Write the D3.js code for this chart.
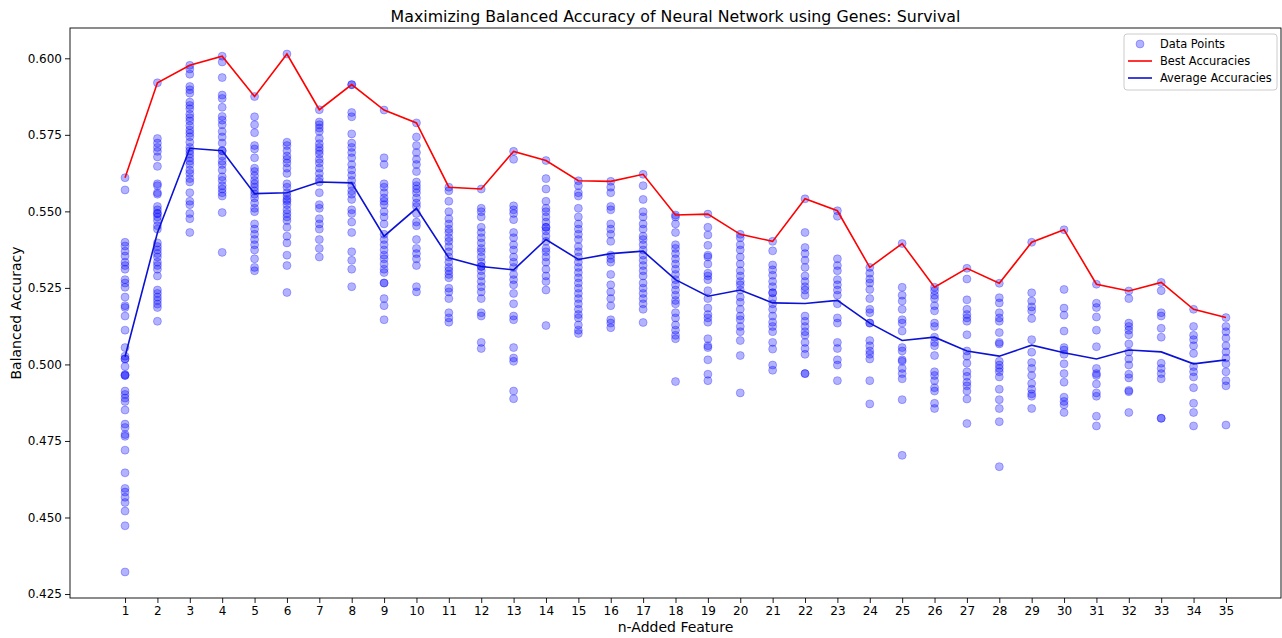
<!DOCTYPE html>
<html>
<head>
<meta charset="utf-8">
<script src="https://cdn.jsdelivr.net/npm/d3@7"></script>
<style>
  html, body { margin: 0; padding: 0; background: #fff; }
  svg { display: block; font-family: "DejaVu Sans", sans-serif; }
</style>
</head>
<body>
<svg id="chart" width="1282" height="638"></svg>
<script>
"use strict";

/* x categories: number of added features */
const features = [1,2,3,4,5,6,7,8,9,10,11,12,13,14,15,16,17,18,19,20,21,22,23,24,25,26,27,28,29,30,31,32,33,34,35];

/* best and average balanced accuracy per feature count */
const bestAcc = [0.5610,0.5920,0.5977,0.6007,0.5875,0.6014,0.5832,0.5914,0.5831,0.5789,
                 0.5579,0.5573,0.5696,0.5666,0.5600,0.5598,0.5621,0.5488,0.5491,0.5425,
                 0.5402,0.5541,0.5502,0.5317,0.5395,0.5252,0.5314,0.5265,0.5399,0.5440,
                 0.5262,0.5240,0.5268,0.5180,0.5153];
const avgAcc = [0.5025,0.5430,0.5706,0.5698,0.5558,0.5561,0.5596,0.5593,0.5419,0.5510,
                0.5348,0.5320,0.5309,0.5408,0.5343,0.5362,0.5370,0.5277,0.5223,0.5243,
                0.5201,0.5199,0.5209,0.5135,0.5078,0.5089,0.5044,0.5027,0.5063,0.5038,
                0.5018,0.5047,0.5041,0.5002,0.5015];

/* individual runs, one list per feature count */
const runs = [
  [0.5610,0.5570,0.5399,0.5387,0.5370,0.5354,0.5334,0.5323,0.5311,0.5277,0.5266,0.5252,0.5220,0.5192,0.5186,0.5158,0.5112,0.5055,0.5027,0.5018,0.5018,0.4993,0.4967,0.4964,0.4964,0.4913,0.4902,0.4890,0.4879,0.4851,0.4805,0.4794,0.4771,0.4765,0.4720,0.4646,0.4595,0.4583,0.4566,0.4549,0.4521,0.4473,0.4322],
  [0.5920,0.5738,0.5723,0.5709,0.5696,0.5678,0.5647,0.5590,0.5584,0.5561,0.5556,0.5516,0.5505,0.5493,0.5493,0.5482,0.5470,0.5453,0.5442,0.5397,0.5385,0.5374,0.5362,0.5351,0.5334,0.5323,0.5311,0.5289,0.5243,0.5232,0.5220,0.5209,0.5197,0.5186,0.5141],
  [0.5977,0.5965,0.5948,0.5908,0.5897,0.5886,0.5857,0.5846,0.5835,0.5817,0.5806,0.5795,0.5780,0.5766,0.5755,0.5744,0.5726,0.5709,0.5698,0.5687,0.5675,0.5664,0.5653,0.5635,0.5624,0.5607,0.5596,0.5561,0.5533,0.5522,0.5493,0.5476,0.5431],
  [0.6007,0.5988,0.5937,0.5880,0.5869,0.5840,0.5810,0.5798,0.5783,0.5761,0.5743,0.5723,0.5698,0.5698,0.5681,0.5664,0.5653,0.5635,0.5613,0.5601,0.5584,0.5573,0.5561,0.5550,0.5496,0.5366],
  [0.5875,0.5809,0.5783,0.5757,0.5715,0.5704,0.5675,0.5641,0.5630,0.5616,0.5601,0.5590,0.5579,0.5567,0.5556,0.5544,0.5527,0.5510,0.5499,0.5459,0.5442,0.5425,0.5408,0.5391,0.5374,0.5345,0.5317,0.5306],
  [0.6014,0.5726,0.5715,0.5698,0.5681,0.5670,0.5658,0.5641,0.5624,0.5590,0.5579,0.5561,0.5550,0.5539,0.5533,0.5522,0.5505,0.5493,0.5482,0.5470,0.5448,0.5419,0.5397,0.5357,0.5323,0.5235],
  [0.5832,0.5792,0.5783,0.5772,0.5761,0.5738,0.5721,0.5709,0.5698,0.5687,0.5670,0.5658,0.5641,0.5624,0.5607,0.5596,0.5561,0.5522,0.5510,0.5476,0.5459,0.5442,0.5408,0.5379,0.5351],
  [0.5914,0.5914,0.5823,0.5809,0.5753,0.5723,0.5709,0.5692,0.5675,0.5653,0.5635,0.5618,0.5601,0.5584,0.5567,0.5556,0.5539,0.5505,0.5493,0.5465,0.5431,0.5368,0.5340,0.5311,0.5254],
  [0.5831,0.5675,0.5653,0.5590,0.5579,0.5561,0.5544,0.5533,0.5522,0.5499,0.5482,0.5459,0.5425,0.5408,0.5391,0.5374,0.5357,0.5345,0.5328,0.5311,0.5300,0.5266,0.5266,0.5215,0.5192,0.5146],
  [0.5789,0.5743,0.5715,0.5692,0.5670,0.5653,0.5630,0.5596,0.5584,0.5573,0.5561,0.5544,0.5527,0.5516,0.5493,0.5465,0.5453,0.5408,0.5379,0.5362,0.5345,0.5323,0.5254,0.5237],
  [0.5579,0.5567,0.5533,0.5499,0.5476,0.5459,0.5442,0.5431,0.5414,0.5402,0.5385,0.5368,0.5351,0.5334,0.5317,0.5306,0.5294,0.5283,0.5249,0.5237,0.5215,0.5169,0.5152,0.5138],
  [0.5573,0.5510,0.5499,0.5482,0.5448,0.5431,0.5414,0.5397,0.5379,0.5368,0.5351,0.5334,0.5320,0.5320,0.5306,0.5289,0.5271,0.5254,0.5237,0.5215,0.5169,0.5158,0.5072,0.5052],
  [0.5696,0.5670,0.5518,0.5505,0.5493,0.5473,0.5431,0.5414,0.5391,0.5374,0.5351,0.5334,0.5317,0.5294,0.5277,0.5260,0.5232,0.5198,0.5158,0.5146,0.5055,0.5021,0.5010,0.4913,0.4888],
  [0.5666,0.5607,0.5573,0.5533,0.5510,0.5499,0.5482,0.5465,0.5448,0.5448,0.5436,0.5419,0.5402,0.5379,0.5368,0.5351,0.5334,0.5311,0.5289,0.5271,0.5243,0.5127],
  [0.5600,0.5584,0.5561,0.5550,0.5510,0.5482,0.5459,0.5442,0.5425,0.5408,0.5385,0.5368,0.5351,0.5334,0.5317,0.5300,0.5283,0.5266,0.5249,0.5232,0.5215,0.5198,0.5180,0.5163,0.5152,0.5129,0.5112,0.5101],
  [0.5598,0.5579,0.5561,0.5516,0.5505,0.5459,0.5442,0.5425,0.5402,0.5357,0.5345,0.5334,0.5294,0.5260,0.5237,0.5215,0.5192,0.5146,0.5135,0.5120],
  [0.5621,0.5584,0.5539,0.5499,0.5482,0.5459,0.5442,0.5419,0.5408,0.5391,0.5374,0.5357,0.5340,0.5323,0.5306,0.5289,0.5266,0.5249,0.5232,0.5215,0.5198,0.5180,0.5137],
  [0.5488,0.5482,0.5459,0.5431,0.5391,0.5379,0.5362,0.5345,0.5328,0.5311,0.5294,0.5277,0.5260,0.5243,0.5226,0.5209,0.5198,0.5169,0.5152,0.5129,0.5112,0.5095,0.5084,0.4944],
  [0.5491,0.5448,0.5423,0.5389,0.5357,0.5351,0.5328,0.5298,0.5289,0.5277,0.5241,0.5215,0.5184,0.5163,0.5152,0.5138,0.5084,0.5061,0.5055,0.5015,0.4968,0.4947],
  [0.5425,0.5414,0.5391,0.5374,0.5351,0.5328,0.5306,0.5289,0.5271,0.5260,0.5243,0.5220,0.5203,0.5180,0.5158,0.5146,0.5124,0.5107,0.5078,0.5029,0.4907],
  [0.5402,0.5371,0.5325,0.5309,0.5291,0.5271,0.5254,0.5234,0.5234,0.5215,0.5198,0.5180,0.5158,0.5138,0.5124,0.5107,0.5072,0.5050,0.4998,0.4981],
  [0.5541,0.5431,0.5382,0.5362,0.5340,0.5317,0.5289,0.5271,0.5254,0.5243,0.5226,0.5158,0.5141,0.5124,0.5107,0.5095,0.5072,0.5052,0.5033,0.4970,0.4970],
  [0.5502,0.5484,0.5345,0.5323,0.5306,0.5277,0.5260,0.5243,0.5226,0.5198,0.5152,0.5135,0.5072,0.5052,0.5015,0.4998,0.4947],
  [0.5317,0.5298,0.5279,0.5266,0.5245,0.5215,0.5180,0.5169,0.5135,0.5135,0.5078,0.5061,0.5044,0.5033,0.5018,0.4947,0.4871],
  [0.5395,0.5252,0.5226,0.5207,0.5180,0.5146,0.5135,0.5109,0.5055,0.5044,0.5015,0.5010,0.4987,0.4970,0.4953,0.4885,0.4703],
  [0.5252,0.5241,0.5226,0.5215,0.5192,0.5175,0.5135,0.5124,0.5089,0.5072,0.5061,0.5029,0.4976,0.4964,0.4947,0.4924,0.4913,0.4873,0.4856],
  [0.5314,0.5279,0.5211,0.5180,0.5163,0.5152,0.5141,0.5097,0.5044,0.5027,0.5004,0.4976,0.4961,0.4942,0.4930,0.4913,0.4887,0.4807],
  [0.5265,0.5218,0.5201,0.5169,0.5152,0.5141,0.5104,0.5072,0.5067,0.5010,0.4998,0.4987,0.4976,0.4959,0.4919,0.4885,0.4856,0.4813,0.4666],
  [0.5399,0.5234,0.5207,0.5188,0.5175,0.5150,0.5081,0.5040,0.5006,0.4987,0.4964,0.4938,0.4919,0.4904,0.4896,0.4856],
  [0.5440,0.5245,0.5184,0.5161,0.5109,0.5055,0.5047,0.5033,0.5002,0.4970,0.4942,0.4893,0.4879,0.4868,0.4843],
  [0.5262,0.5200,0.5186,0.5155,0.5112,0.5058,0.4987,0.4970,0.4964,0.4936,0.4907,0.4896,0.4831,0.4799],
  [0.5240,0.5215,0.5135,0.5124,0.5112,0.5097,0.5067,0.5041,0.5018,0.4998,0.4968,0.4956,0.4915,0.4911,0.4843],
  [0.5268,0.5241,0.5169,0.5158,0.5118,0.5089,0.5004,0.4987,0.4970,0.4953,0.4824,0.4824],
  [0.5180,0.5124,0.5095,0.5081,0.5061,0.5036,0.4993,0.4976,0.4959,0.4924,0.4873,0.4843,0.4799],
  [0.5153,0.5124,0.5107,0.5086,0.5061,0.5041,0.5021,0.5002,0.4976,0.4947,0.4930,0.4802]
];

const yTicks = [0.425,0.450,0.475,0.500,0.525,0.550,0.575,0.600];
const legendItems = ["Data Points", "Best Accuracies", "Average Accuracies"];

const svg = d3.select("#chart");
const margin = {left: 70, right: 1281, top: 28, bottom: 598};

/* scales with matplotlib-like 5% padding */
const x = d3.scaleLinear().domain([-0.7, 36.7]).range([margin.left, margin.right]);
const y = d3.scaleLinear().domain([0.4237, 0.6099]).range([margin.bottom, margin.top]);

/* flatten runs into points */
let pts = [];
runs.forEach(function(list, i) {
  list.forEach(function(v) { pts.push({f: features[i], v: v}); });
});

/* scatter dot, face and edge both translucent like matplotlib */
function dot(sel) {
  sel.attr("r", 4)
      .attr("fill", "#0000ff")
      .attr("fill-opacity", 0.3)
      .attr("stroke", "#0000ff")
      .attr("stroke-opacity", 0.3)
      .attr("stroke-width", 0.9);
}

svg.append("g")
    .selectAll("circle")
    .data(pts)
    .enter().append("circle")
    .attr("cx", function(d) { return x(d.f); })
    .attr("cy", function(d) { return y(d.v); })
    .call(dot);

const line = d3.line()
    .x(function(d, i) { return x(features[i]); })
    .y(function(d) { return y(d); });

svg.append("path")
    .datum(bestAcc)
    .attr("d", line)
    .attr("fill", "none")
    .attr("stroke", "#ff0000")
    .attr("stroke-width", 1.6);

svg.append("path")
    .datum(avgAcc)
    .attr("d", line)
    .attr("fill", "none")
    .attr("stroke", "#0c12d4")
    .attr("stroke-width", 1.6);

/* axes */
const xAxis = svg.append("g")
    .attr("transform", "translate(0," + margin.bottom + ")")
    .call(d3.axisBottom(x).tickValues(features).tickFormat(d3.format("d")).tickSize(5).tickSizeOuter(0));
const yAxis = svg.append("g")
    .attr("transform", "translate(" + margin.left + ",0)")
    .call(d3.axisLeft(y).tickValues(yTicks).tickFormat(d3.format(".3f")).tickSize(5).tickSizeOuter(0));

[xAxis, yAxis].forEach(function(a) {
  a.select(".domain").remove();
  a.selectAll("text").style("font-size", "12px").attr("fill", "#000")
      .style("font-family", "DejaVu Sans, sans-serif");
  a.selectAll("line").attr("stroke", "#000").attr("stroke-width", 0.9);
});
xAxis.selectAll("text").attr("dy", "0.71em").attr("y", 8);
yAxis.selectAll("text").attr("x", -8);

/* frame */
svg.append("rect")
    .attr("x", margin.left).attr("y", margin.top)
    .attr("width", margin.right - margin.left)
    .attr("height", margin.bottom - margin.top)
    .attr("fill", "none").attr("stroke", "#000").attr("stroke-width", 0.9);

/* titles */
svg.append("text")
    .attr("x", (margin.left + margin.right) / 2).attr("y", 22)
    .attr("text-anchor", "middle")
    .style("font-size", "15.8px")
    .text("Maximizing Balanced Accuracy of Neural Network using Genes: Survival");

svg.append("text")
    .attr("x", (margin.left + margin.right) / 2).attr("y", 632)
    .attr("text-anchor", "middle")
    .style("font-size", "14px")
    .text("n-Added Feature");

svg.append("text")
    .attr("transform", "translate(21," + (margin.top + margin.bottom) / 2 + ") rotate(-90)")
    .attr("text-anchor", "middle")
    .style("font-size", "14px")
    .text("Balanced Accuracy");

/* legend */
const lg = svg.append("g").attr("transform", "translate(1124,34)");
lg.append("rect")
    .attr("width", 153).attr("height", 56).attr("rx", 3)
    .attr("fill", "#fff").attr("fill-opacity", 0.8)
    .attr("stroke", "#cccccc");
legendItems.forEach(function(name, i) {
  let yy = 10 + i * 17;
  if (i === 0) {
    lg.append("circle").attr("cx", 16).attr("cy", yy).call(dot);
  } else {
    lg.append("line").attr("x1", 4).attr("x2", 28).attr("y1", yy).attr("y2", yy)
        .attr("stroke", i === 1 ? "#ff0000" : "#0c12d4").attr("stroke-width", 1.6);
  }
  lg.append("text").attr("x", 36).attr("y", yy).attr("dy", "0.35em")
      .style("font-size", "11.4px").text(name);
});
</script>
</body>
</html>
